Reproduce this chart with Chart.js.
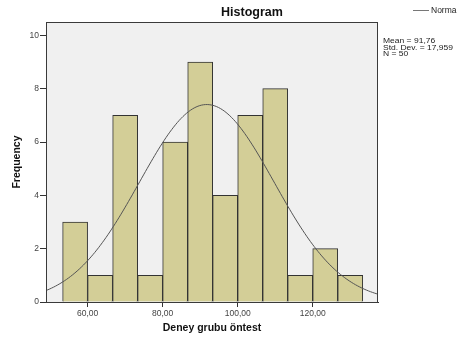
<!DOCTYPE html>
<html>
<head>
<meta charset="utf-8">
<script src="https://cdn.jsdelivr.net/npm/chart.js@4/dist/chart.umd.min.js"></script>
<style>
  html, body { margin: 0; padding: 0; background: #ffffff; }
  #wrap { width: 457px; height: 342px; position: relative; }
</style>
</head>
<body>
<div id="wrap"><canvas id="c" width="457" height="342"></canvas></div>
<script>
// Histogram bins (lower edges) and their frequencies
const binStarts = [53.33, 60.00, 66.67, 73.33, 80.00, 86.67, 93.33, 100.00, 106.67, 113.33, 120.00, 126.67];
const binWidth = 6.667;
const counts = [3, 1, 7, 1, 6, 9, 4, 7, 8, 1, 2, 1];

// Summary statistics shown beside the plot
const mean = 91.76;
const stdDev = 17.959;
const n = 50;

// Axis ranges and ticks
const xTicks = [60, 80, 100, 120];
const yTicks = [0, 2, 4, 6, 8, 10];
const xRange = [48.9, 137.4];
const yRange = [0, 10.5];

const fmt = v => v.toFixed(2).replace('.', ',');

// Fitted normal curve, scaled to counts per bin
const curve = [];
for (let x = xRange[0]; x <= xRange[1] + 1e-9; x += 0.5) {
  const z = (x - mean) / stdDev;
  curve.push({ x: x, y: n * binWidth * Math.exp(-0.5 * z * z) / (stdDev * Math.sqrt(2 * Math.PI)) });
}

const bars = binStarts.map((s, i) => ({ x: s + binWidth / 2, y: counts[i] }));

const FONT = '"Liberation Sans", Arial, sans-serif';

const decor = {
  id: 'decor',
  beforeDraw(chart) {
    const { ctx, chartArea: a } = chart;
    ctx.save();
    ctx.fillStyle = '#f0f0f0';
    ctx.fillRect(a.left, a.top, a.right - a.left, a.bottom - a.top);
    ctx.restore();
  },
  afterDraw(chart) {
    const { ctx, chartArea: a } = chart;
    ctx.save();
    // frame
    ctx.strokeStyle = '#3a3a3a';
    ctx.lineWidth = 1;
    ctx.strokeRect(a.left + 0.5, a.top + 0.5, a.right - a.left - 1, a.bottom - a.top);

    // title
    ctx.fillStyle = '#111';
    ctx.font = 'bold 12.5px ' + FONT;
    ctx.textAlign = 'center';
    ctx.textBaseline = 'middle';
    ctx.fillText('Histogram', 252, 13);

    // x axis title
    ctx.font = 'bold 10.5px ' + FONT;
    ctx.fillText('Deney grubu öntest', (a.left + a.right) / 2, 328);

    // y axis title
    ctx.save();
    ctx.translate(17, 162);
    ctx.rotate(-Math.PI / 2);
    ctx.fillText('Frequency', 0, 0);
    ctx.restore();

    // legend
    ctx.strokeStyle = '#777';
    ctx.beginPath();
    ctx.moveTo(413, 10.5);
    ctx.lineTo(429, 10.5);
    ctx.stroke();
    ctx.font = '8.5px ' + FONT;
    ctx.textAlign = 'left';
    ctx.fillStyle = '#222';
    ctx.fillText('Normal', 431, 11);

    // statistics (slightly wide, compact lines)
    ctx.textBaseline = 'alphabetic';
    ctx.font = '7.4px ' + FONT;
    const stats = [
      'Mean = ' + mean.toFixed(2).replace('.', ','),
      'Std. Dev. = ' + stdDev.toFixed(3).replace('.', ','),
      'N = ' + n
    ];
    stats.forEach((t, i) => {
      ctx.save();
      ctx.translate(383, 43 + i * 6.5);
      ctx.scale(1.15, 1);
      ctx.fillText(t, 0, 0);
      ctx.restore();
    });
    ctx.restore();
  }
};

new Chart(document.getElementById('c'), {
  data: {
    datasets: [
      {
        type: 'line',
        data: curve,
        borderColor: '#555',
        borderWidth: 1,
        pointRadius: 0,
        tension: 0.3,
        fill: false,
        order: 0
      },
      {
        type: 'bar',
        data: bars,
        backgroundColor: '#d3ce97',
        borderColor: '#333',
        borderWidth: 1,
        barPercentage: 1,
        categoryPercentage: 1,
        order: 1
      }
    ]
  },
  options: {
    responsive: false,
    animation: false,
    devicePixelRatio: 1,
    layout: { padding: { left: 0, right: 79, top: 22, bottom: 0 } },
    plugins: { legend: { display: false }, tooltip: { enabled: false } },
    scales: {
      x: {
        type: 'linear',
        offset: false,
        min: xRange[0],
        max: xRange[1],
        afterBuildTicks: s => { s.ticks = xTicks.map(v => ({ value: v })); },
        afterFit: s => { s.height = 40; },
        grid: { display: true, offset: false, drawOnChartArea: false, drawTicks: true, tickLength: 5, color: '#333' },
        border: { display: true, color: '#333' },
        ticks: { callback: v => fmt(v), color: '#444', font: { family: FONT, size: 8.5 }, padding: 2, maxRotation: 0 }
      },
      y: {
        type: 'linear',
        min: yRange[0],
        max: yRange[1],
        afterBuildTicks: s => { s.ticks = yTicks.map(v => ({ value: v })); },
        afterFit: s => { s.width = 46; },
        grid: { display: true, drawOnChartArea: false, drawTicks: true, tickLength: 6, color: '#333' },
        border: { display: true, color: '#333' },
        ticks: { color: '#444', font: { family: FONT, size: 8.5 }, padding: 1 }
      }
    }
  },
  plugins: [decor]
});
</script>
</body>
</html>
